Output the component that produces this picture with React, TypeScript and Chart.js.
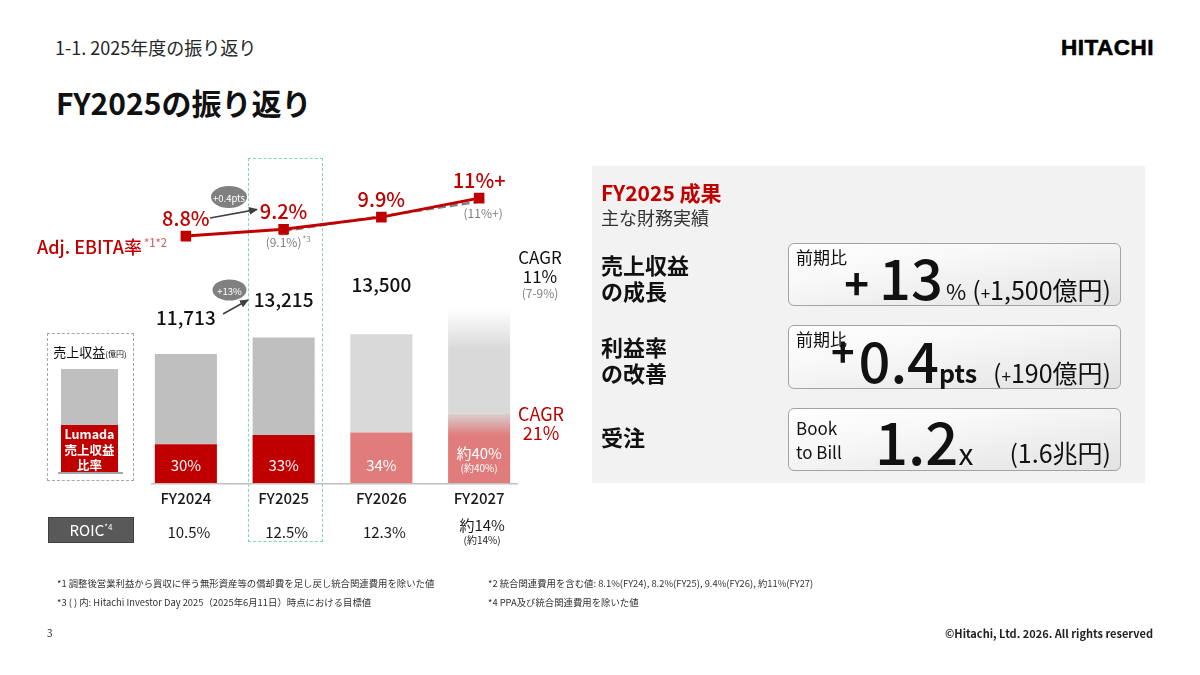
import React, { useEffect, useRef } from "react";
import { Chart, registerables } from "chart.js";

Chart.register(...registerables);

const FONT = '"Noto Sans CJK JP", "Noto Sans", sans-serif';
const RED = "#C00000";
const PINK = "#E07C7C";
const GRAY = "#BFBFBF";
const LIGHT = "#D9D9D9";
const TEXT_GRAY = "#7F7F7F";

// ---- data ----
const YEARS = ["FY2024", "FY2025", "FY2026", "FY2027"];
const REVENUE = [11713, 13215, 13500, 15800]; // 売上収益 (億円), FY2027 estimated from faded bar
const REVENUE_LABELS = ["11,713", "13,215", "13,500", ""];
const LUMADA_SHARE = [30, 33, 34, 40]; // Lumada 売上収益比率 (%)
const LUMADA_LABELS = ["30%", "33%", "34%", "約40%"];
const LUMADA_PLAN_LABELS = ["", "", "", "(約40%)"];
const EBITA = [8.8, 9.2, 9.9, 11];
const EBITA_LABELS = ["8.8%", "9.2%", "9.9%", "11%+"];
const EBITA_PLAN = [null, 9.1, null, 10.8];
const EBITA_PLAN_LABELS = ["", "(9.1%)", "", "(11%+)"];
const EBITA_PLAN_NOTES = ["", "*3", "", ""];
const ROIC = ["10.5%", "12.5%", "12.3%", "約14%"];
const ROIC_PLAN = ["", "", "", "(約14%)"];

// layout only
const REVENUE_LABEL_GAP = [36, 38, 49, 0];

const LUMADA = REVENUE.map((v, i) => (v * LUMADA_SHARE[i]) / 100);
const OTHER = REVENUE.map((v, i) => v - LUMADA[i]);

const overlayPlugin = {
  id: "overlay",
  afterDraw(chart: any) {
    const { ctx, chartArea: a, scales } = chart;
    const x = scales.x;
    const y = scales.y;
    const y2 = scales.y2;
    ctx.save();
    // baseline
    ctx.strokeStyle = "#BFBFBF";
    ctx.lineWidth = 1.5;
    ctx.beginPath();
    ctx.moveTo(a.left + 14, a.bottom + 0.75);
    ctx.lineTo(a.right - 10, a.bottom + 0.75);
    ctx.stroke();

    ctx.textAlign = "center";
    ctx.textBaseline = "middle";
    const lineMeta = chart.getDatasetMeta(0);
    for (let i = 0; i < YEARS.length; i++) {
      const cx = x.getPixelForValue(i);
      const top = y.getPixelForValue(REVENUE[i]);
      if (REVENUE_LABELS[i]) {
        ctx.fillStyle = "#111";
        ctx.font = `500 19px ${FONT}`;
        ctx.fillText(REVENUE_LABELS[i], cx, top - REVENUE_LABEL_GAP[i]);
      }
      ctx.fillStyle = "#fff";
      if (LUMADA_PLAN_LABELS[i]) {
        ctx.font = `15px ${FONT}`;
        ctx.fillText(LUMADA_LABELS[i], cx, a.bottom - 30);
        ctx.font = `10px ${FONT}`;
        ctx.fillText(LUMADA_PLAN_LABELS[i], cx, a.bottom - 15);
      } else {
        ctx.font = `15px ${FONT}`;
        ctx.fillText(LUMADA_LABELS[i], cx, a.bottom - 18);
      }
      // category labels
      ctx.fillStyle = "#1a1a1a";
      ctx.font = `500 15px ${FONT}`;
      ctx.fillText(YEARS[i], cx, a.bottom + 15);
      // ROIC
      ctx.font = `15px ${FONT}`;
      if (ROIC_PLAN[i]) {
        ctx.fillText(ROIC[i], cx + 3, a.bottom + 42);
        ctx.font = `10px ${FONT}`;
        ctx.fillText(ROIC_PLAN[i], cx + 3, a.bottom + 57);
      } else {
        ctx.fillText(ROIC[i], cx + 3, a.bottom + 49);
      }
      // EBITA labels
      const pt = lineMeta.data[i];
      ctx.fillStyle = RED;
      ctx.font = `500 20px ${FONT}`;
      ctx.fillText(EBITA_LABELS[i], pt.x, pt.y - 18);
      // plan labels
      if (EBITA_PLAN[i] != null && EBITA_PLAN_LABELS[i]) {
        const py = y2.getPixelForValue(EBITA_PLAN[i] as number);
        ctx.fillStyle = TEXT_GRAY;
        ctx.font = `12px ${FONT}`;
        const w = ctx.measureText(EBITA_PLAN_LABELS[i]).width;
        ctx.font = `8px ${FONT}`;
        const wn = EBITA_PLAN_NOTES[i] ? ctx.measureText(EBITA_PLAN_NOTES[i]).width : 0;
        const sx = pt.x + 4 - (w + wn) / 2;
        ctx.textAlign = "left";
        ctx.font = `12px ${FONT}`;
        ctx.fillText(EBITA_PLAN_LABELS[i], sx, py + 12);
        if (EBITA_PLAN_NOTES[i]) {
          ctx.font = `8px ${FONT}`;
          ctx.fillText(EBITA_PLAN_NOTES[i], sx + w + 1, py + 8);
        }
        ctx.textAlign = "center";
      }
    }
    ctx.restore();
  },
};

function ComboChart() {
  const ref = useRef<HTMLCanvasElement>(null);
  useEffect(() => {
    if (!ref.current) return;
    const redFill = (c: any) => {
      if (c.type !== "data") return RED;
      const i = c.dataIndex;
      if (i < 2) return RED;
      if (i === 2) return PINK;
      const ch = c.chart;
      if (!ch.chartArea) return PINK;
      const top = ch.scales.y.getPixelForValue(LUMADA[i]);
      const g = ch.ctx.createLinearGradient(0, top - 2, 0, top + 22);
      g.addColorStop(0, LIGHT);
      g.addColorStop(1, PINK);
      return g;
    };
    const grayFill = (c: any) => {
      if (c.type !== "data") return GRAY;
      const i = c.dataIndex;
      if (i < 2) return GRAY;
      if (i === 2) return LIGHT;
      const ch = c.chart;
      if (!ch.chartArea) return LIGHT;
      const top = ch.scales.y.getPixelForValue(REVENUE[i]);
      const g = ch.ctx.createLinearGradient(0, top, 0, top + 40);
      g.addColorStop(0, "rgba(217,217,217,0)");
      g.addColorStop(1, LIGHT);
      return g;
    };
    const chart = new Chart(ref.current, {
      type: "bar",
      data: {
        labels: YEARS,
        datasets: [
          {
            type: "line",
            label: "Adj. EBITA率",
            data: EBITA,
            yAxisID: "y2",
            borderColor: RED,
            backgroundColor: RED,
            borderWidth: 3,
            pointStyle: "rect",
            pointRadius: 7.5,
            pointHoverRadius: 7.5,
            pointBackgroundColor: RED,
            pointBorderWidth: 0,
            order: 0,
          } as any,
          {
            type: "line",
            label: "目標値",
            data: EBITA_PLAN,
            yAxisID: "y2",
            borderColor: "#808080",
            backgroundColor: "#808080",
            borderWidth: 2.5,
            borderDash: [8, 4],
            spanGaps: true,
            pointStyle: "rect",
            pointRadius: [0, 6, 0, 0],
            pointBackgroundColor: "#808080",
            pointBorderWidth: 0,
            order: 1,
          } as any,
          {
            type: "bar",
            label: "Lumada",
            data: LUMADA,
            yAxisID: "y",
            backgroundColor: redFill,
            stack: "rev",
            barPercentage: 0.635,
            categoryPercentage: 1,
            order: 2,
          } as any,
          {
            type: "bar",
            label: "その他",
            data: OTHER,
            yAxisID: "y",
            backgroundColor: grayFill,
            stack: "rev",
            barPercentage: 0.635,
            categoryPercentage: 1,
            order: 3,
          } as any,
        ],
      },
      options: {
        responsive: false,
        animation: false,
        events: [],
        layout: { padding: { left: 107, right: 62, top: 30, bottom: 87 } },
        plugins: { legend: { display: false }, tooltip: { enabled: false } },
        scales: {
          x: { type: "category", display: false, offset: true, stacked: true, grid: { display: false } },
          y: { display: false, stacked: true, min: 0, max: 27500 },
          y2: { display: false, min: -5.5, max: 12.05 },
        },
      },
      plugins: [overlayPlugin],
    });
    return () => chart.destroy();
  }, []);
  return (
    <canvas
      ref={ref}
      width={560}
      height={420}
      style={{ position: "absolute", left: 30, top: 150, width: 560, height: 420 }}
    />
  );
}

type TP = {
  x: number;
  y: number;
  size: number;
  color?: string;
  weight?: number | string;
  align?: "left" | "center" | "right";
  children: React.ReactNode;
  style?: React.CSSProperties;
};
const T = ({ x, y, size, color = "#000", weight = 400, align = "left", children, style }: TP) => (
  <div
    style={{
      position: "absolute",
      left: x,
      top: y,
      transform: `translate(${align === "center" ? "-50%" : align === "right" ? "-100%" : "0"}, -50%)`,
      fontSize: size,
      color,
      fontWeight: weight as any,
      lineHeight: 1.15,
      whiteSpace: "nowrap",
      fontFamily: FONT,
      textAlign: align,
      ...style,
    }}
  >
    {children}
  </div>
);

const boxStyle = (top: number, height: number): React.CSSProperties => ({
  position: "absolute",
  left: 788,
  top,
  width: 333,
  height,
  boxSizing: "border-box",
  border: "1.5px solid #A3A3A3",
  borderRadius: 6,
  background: "linear-gradient(170deg, #FFFFFF 0%, #F8F8F8 35%, #E2E2E2 100%)",
  fontFamily: FONT,
  color: "#111",
});

const rowStyle: React.CSSProperties = {
  position: "absolute",
  right: 9,
  bottom: 1,
  display: "flex",
  alignItems: "baseline",
  lineHeight: 1,
  whiteSpace: "nowrap",
};

export default function App() {
  useEffect(() => {
    document.body.style.margin = "0";
  }, []);
  return (
    <div
      style={{
        position: "fixed",
        left: 0,
        top: 0,
        width: 1200,
        height: 675,
        background: "#fff",
        overflow: "hidden",
        fontFamily: FONT,
      }}
    >
      {/* header */}
      <T x={55} y={47} size={18} color="#262626">1-1. 2025年度の振り返り</T>
      <T x={56} y={102} size={30} weight={700} color="#111">FY2025の振り返り</T>
      <T
        x={1061}
        y={48}
        size={22.5}
        weight={900}
        color="#000"
        style={{ fontFamily: '"Liberation Sans", Arial, sans-serif', letterSpacing: 0.5, WebkitTextStroke: "0.6px #000" }}
      >
        HITACHI
      </T>

      {/* FY2025 highlight */}
      <div
        style={{
          position: "absolute",
          left: 248,
          top: 158,
          width: 75,
          height: 384,
          boxSizing: "border-box",
          border: "1.5px dashed #7FD6BF",
        }}
      />

      <ComboChart />

      {/* EBITA label */}
      <T x={37} y={246} size={18} color={RED} weight={500}>
        Adj. EBITA率
        <span style={{ fontSize: 11, color: "#D46A6A", verticalAlign: "super", marginLeft: 2 }}>*1*2</span>
      </T>

      {/* CAGR */}
      <T x={540} y={257} size={17} align="center" color="#111">CAGR</T>
      <T x={540} y={276} size={17} align="center" color="#111">11%</T>
      <T x={540} y={293} size={12} align="center" color={TEXT_GRAY}>(7-9%)</T>
      <T x={541} y={413} size={18} align="center" color={RED}>CAGR</T>
      <T x={541} y={432} size={18} align="center" color={RED}>21%</T>

      {/* legend */}
      <div
        style={{
          position: "absolute",
          left: 47,
          top: 333,
          width: 87,
          height: 148,
          boxSizing: "border-box",
          border: "1.5px dashed #A6A6A6",
        }}
      />
      <T x={90} y={352} size={13} align="center" color="#111">
        売上収益<span style={{ fontSize: 8 }}>(億円)</span>
      </T>
      <div style={{ position: "absolute", left: 61, top: 369, width: 57, height: 56, background: GRAY }} />
      <div style={{ position: "absolute", left: 61, top: 425, width: 57, height: 47, background: RED }} />
      <div style={{ position: "absolute", left: 58, top: 472, width: 65, height: 1.5, background: "#A6A6A6" }} />
      <T x={89.5} y={434} size={12.5} align="center" color="#fff" weight={700}>Lumada</T>
      <T x={89.5} y={450} size={12.5} align="center" color="#fff" weight={700}>売上収益</T>
      <T x={89.5} y={465} size={12.5} align="center" color="#fff" weight={700}>比率</T>

      {/* ROIC */}
      <div
        style={{
          position: "absolute",
          left: 48,
          top: 517,
          width: 86,
          height: 26,
          background: "#595959",
          border: "1px solid #3F3F3F",
          boxSizing: "border-box",
        }}
      />
      <T x={91} y={530} size={15} align="center" color="#fff">
        ROIC<span style={{ fontSize: 8, verticalAlign: "super" }}>*4</span>
      </T>

      {/* arrows & bubbles */}
      <svg
        width={1200}
        height={675}
        style={{ position: "absolute", left: 0, top: 0, pointerEvents: "none" }}
      >
        <defs>
          <marker
            id="ah"
            markerWidth="9"
            markerHeight="8"
            refX="8"
            refY="4"
            orient="auto"
            markerUnits="userSpaceOnUse"
          >
            <path d="M0,0 L9,4 L0,8 z" fill="#404040" />
          </marker>
        </defs>
        <line x1={210} y1={218} x2={257} y2={209.5} stroke="#404040" strokeWidth={1.6} markerEnd="url(#ah)" />
        <line x1={223} y1={314} x2={248} y2={300} stroke="#404040" strokeWidth={1.6} markerEnd="url(#ah)" />
        <ellipse cx={229} cy={197} rx={18} ry={11} fill="#808080" />
        <text
          x={229}
          y={197.5}
          fill="#fff"
          fontSize={9.5}
          textAnchor="middle"
          dominantBaseline="central"
          fontFamily={FONT}
        >
          +0.4pts
        </text>
        <ellipse cx={229.5} cy={290} rx={17} ry={10.5} fill="#808080" />
        <text
          x={229.5}
          y={290.5}
          fill="#fff"
          fontSize={9.5}
          textAnchor="middle"
          dominantBaseline="central"
          fontFamily={FONT}
        >
          +13%
        </text>
      </svg>

      {/* right panel */}
      <div style={{ position: "absolute", left: 592, top: 166, width: 553, height: 317, background: "#F2F2F2" }} />
      <T x={601} y={192} size={21} weight={700} color={RED}>FY2025 成果</T>
      <T x={601} y={217} size={18} color="#333">主な財務実績</T>

      <T x={601} y={265} size={22} weight={700} color="#111">売上収益</T>
      <T x={601} y={291} size={22} weight={700} color="#111">の成長</T>
      <T x={601} y={347} size={22} weight={700} color="#111">利益率</T>
      <T x={601} y={373} size={22} weight={700} color="#111">の改善</T>
      <T x={601} y={437} size={22} weight={700} color="#111">受注</T>

      <div style={boxStyle(243, 63)}>
        <div style={{ position: "absolute", left: 7, top: 3, fontSize: 17, lineHeight: 1.2 }}>前期比</div>
        <div style={rowStyle}>
          <span style={{ fontSize: 42, fontWeight: 700, marginRight: 10 }}>+</span>
          <span style={{ fontSize: 56, fontWeight: 500 }}>13</span>
          <span style={{ fontSize: 22, marginLeft: 3, marginRight: 6 }}>%</span>
          <span style={{ fontSize: 25 }}>
            (<span style={{ fontSize: 17 }}>+</span>1,500億円)
          </span>
        </div>
      </div>

      <div style={boxStyle(325, 64)}>
        <div style={{ position: "absolute", left: 7, top: 3, fontSize: 17, lineHeight: 1.2 }}>前期比</div>
        <div style={rowStyle}>
          <span style={{ fontSize: 40, fontWeight: 700, marginRight: 4, position: "relative", top: -16 }}>+</span>
          <span style={{ fontSize: 56, fontWeight: 500 }}>0.4</span>
          <span style={{ fontSize: 25, fontWeight: 700, marginRight: 16 }}>pts</span>
          <span style={{ fontSize: 25 }}>
            (<span style={{ fontSize: 17 }}>+</span>190億円)
          </span>
        </div>
      </div>

      <div style={boxStyle(408, 63)}>
        <div style={{ position: "absolute", left: 7, top: 7, fontSize: 17, lineHeight: 1.4 }}>
          Book
          <br />
          to Bill
        </div>
        <div
          style={{
            position: "absolute",
            left: 86,
            bottom: 1,
            display: "flex",
            alignItems: "baseline",
            lineHeight: 1,
          }}
        >
          <span style={{ fontSize: 58, fontWeight: 500 }}>1.2</span>
          <span style={{ fontSize: 30 }}>x</span>
        </div>
        <div style={{ ...rowStyle, bottom: 5 }}>
          <span style={{ fontSize: 25 }}>(1.6兆円)</span>
        </div>
      </div>

      {/* footnotes */}
      <T x={57} y={583} size={9.4} color="#333">*1 調整後営業利益から買収に伴う無形資産等の償却費を足し戻し統合関連費用を除いた値</T>
      <T x={57} y={602} size={9.4} color="#333">*3 ( ) 内: Hitachi Investor Day 2025（2025年6月11日）時点における目標値</T>
      <T x={488} y={583} size={9.4} color="#333">*2 統合関連費用を含む値: 8.1%(FY24), 8.2%(FY25), 9.4%(FY26), 約11%(FY27)</T>
      <T x={488} y={602} size={9.4} color="#333">*4 PPA及び統合関連費用を除いた値</T>
      <T x={47} y={633} size={10} color="#333">3</T>
      <T x={1153} y={633} size={11} weight={700} align="right" color="#222">
        ©Hitachi, Ltd. 2026. All rights reserved
      </T>
    </div>
  );
}
